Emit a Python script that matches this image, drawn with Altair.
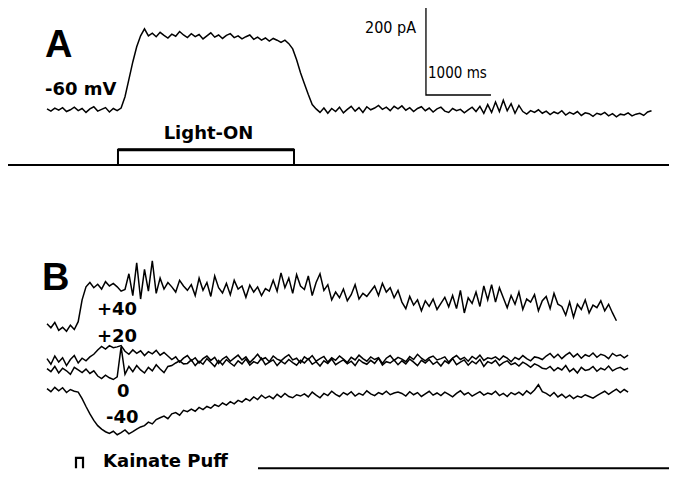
import altair as alt
import pandas as pd

# ---------------- data -----------------
# sampling of the recorded traces (ms)
T_START = 600
DT = 60

# Panel A: light-evoked current at -60 mV (pA, relative to holding baseline)
trace_A = [
    2, -3, 4, -1, 5, -4, 0, 6, -2, 3, -6, 2, 7, -3, 1, 5, -5, 3, -2, 4,
    30, 70, 110, 145, 170,
    186, 170, 176, 168, 178, 171, 165, 174, 169, 180,
    172, 166, 175, 168, 173, 163, 170, 177, 167, 172,
    164, 171, 175, 166, 170, 163, 168, 172, 162, 167,
    160, 165, 158, 164, 160, 155, 160, 152,
    140, 115, 85, 60, 35, 12,
    2, -6, 4, -8, 3, -4, 6, -7, 1, 8,
    -3, 5, -6, 7, 0, 4, 10, 1, 6, -2,
    8, 2, 9, -1, 5, -4, 3, 7, -2, 4,
    -5, 2, 6, -3, -6, 3, -2, 1, -7, 0,
    6, -4, 8, -8,
    12, -6, 18, -4, 22, -2, 14, -8, 10,
    -4, -10, -2, -6, 0, -8, -3, -11, -5, -9,
    -2, -12, -6, -10, -4, -13, -7, -9, -15, -8,
    -11, -6, -14, -9, -16, -10, -12, -7, -14, -10,
    -8, -13, -5, -2,
]

# Panel B: kainate-puff responses at four holding potentials (pA)
trace_B_p40 = [
    5, -4, 8, -10, -3, -12, 2, -8, 10,
    60, 90,
    100, 88, 96, 85, 102, 92, 98, 90,
    80, 84,
    120, 70, 145, 62, 130, 80, 150, 75,
    110, 85, 100, 90, 78, 105, 92, 82,
    95, 70, 110, 82, 100, 68, 115, 88, 76, 98, 72, 105, 85, 92, 66, 94,
    78, 90, 70, 86, 80,
    105, 80, 122, 88, 110, 75, 118, 92, 84, 115, 70, 100, 120, 82, 95,
    60, 78, 65, 85, 58, 72, 95, 62, 75, 68, 80,
    92, 70, 98, 78, 88, 65, 82,
    55, 40, 68, 48, 60, 35, 58, 45, 62, 38, 52, 66, 44,
    70, 40, 82, 30, 65, 52, 78, 45,
    92, 60, 95, 55, 88,
    65, 42, 70, 50, 78, 38, 62, 55, 72, 35, 58, 68, 40, 75, 50,
    45, 25, 55, 20, 50, 38, 60, 30, 48, 42, 58, 35, 50,
    30, 12,
]

trace_B_p20 = [
    8, -5, 14, 0, 10, -8, 6, 15, -2, 9, 3, 12, 18,
    28, 36, 30, 38, 33, 35,
    38,
    25, 18, 28, 20, 26, 15, 24, 19, 27, 16, 22, 14,
    6, 12, 0, 9, 15, 3, 10, -2, 8, 14, 4, 11, -3, 7,
    13, 2, 9, 16, 5, 12, -1, 8, 18, 6, 10, 1, 14, 7,
    3, 11, 17, 5, 9, -2, 12, 6, 15, 2, 8, 13, 0, 10,
    4, 14, 7, -1, 11, 5, 16, 8, 2, 12, 6, 10, -3, 9,
    15, 4, 11, 7, 1, 13, 6, 18, 9, 3, 10, 14, 5, 8,
    12, 0, 9, 15, 6, 11, 2, 13, 7, 16, 4, 10, 8, 12,
    5, 14, 9, 1, 11, 6, 15, 8, 3, 12, 10, 6,
    14, 20, 10, 18, 8, 16, 22, 12, 19, 9, 17, 13, 21, 11, 18, 15, 8, 20, 14, 17, 10, 16,
]

trace_B_0 = [
    -15, -22, -10, -25, -14, -20, -28, -12, -18, -24, -16, -26, -20,
    -32, -38, -30, -36, -40, -34,
    35, -28,
    -10, -22, -8, -18, -25, -12, -20, -6, -16, -24, -10,
    -8, -2, 3, -4,
    -3, 5, -8, 2, -5, 8, -1, -10, 4, -6, 6, -2, -9, 3,
    -4, 7, -7, 1, -3, 9, -6, 0, 5, -8, 2, -4, 6, -1,
    -7, 4, -2, 8, -5, 1, -9, 3, -3, 7, -6, 0, 5, -4,
    2, -8, 6, -1, -5, 4, -3, 9, -7, 1, -2, 5, -6, 3,
    -4, 7, 0, -8, 4, -2, 6, -5, 1, -9, 3, -3, 8, -6,
    0, 5, -7, 2, -4, 6, -10, 1, -3, 4, -8, -1, 3, -6,
    -2, -9, 0, -5, -12, -4, -8, -14,
    -16, -10, -20, -13, -18, -8, -22, -15, -25, -12, -19, -17, -10, -21, -14, -18, -9, -20, -15, -12, -18, -14,
]

trace_B_m40 = [
    3, -4, 6, -2, 5, -6, 1, -3, -5,
    -20, -38, -55, -70, -82, -90, -96,
    -100, -95, -103, -98, -92, -101, -96, -90, -85,
    -82, -74, -78, -68, -64, -60, -66, -55,
    -52, -58, -47, -50, -44, -49, -40, -45, -38,
    -42, -34, -38, -30, -35, -27, -32, -24, -28, -20,
    -25, -16, -22, -12, -19, -14, -20, -10, -17, -8, -15, -18, -11, -14,
    -9, -16, -5, -12, -18, -8, -13, -3, -10, -15, -6, -11, -4, -14, -8, -12, -2, -9, -13, -6, -10, -3, -11, -7, -5,
    -8, -14, -4, -11, -6, -15, -9, -3, -12, -7,
    -13, -5, -10, -16, -8, -2, -11, -6, -14, -9,
    -4, -12, -7, -10, -3, -13, -8, -15, -6, -11,
    -5, -12, -2, -9, 0, 12, -4, -8, -14, -6,
    -16, -10, -18, -12, -20, -14, -17, -11, -15, -19,
    -13, -8, -3, -10, -4, 2, -6, 1, -5,
]

series_names = ["A -60 mV", "B +40", "B +20", "B 0", "B -40"]
series_values = [trace_A, trace_B_p40, trace_B_p20, trace_B_0, trace_B_m40]
# baseline of each trace on the shared current axis (pA)
series_offsets = [828, 331, 248, 248, 184]

# light stimulus (ms) and trace baseline for the stimulus monitor
light_on = [1692, 4400]
stim_level = [701, 736]
# kainate puff marker (ms, pA)
puff_t = [1046, 1046, 1154, 1154]
puff_v = [4, 28, 28, 4]

# calibration bar: 1000 ms / 200 pA
cal_t = [6430, 6430, 7430]
cal_v = [1062, 862, 862]

# ---------------- build tables -----------------
rows = []
for name, vals, off in zip(series_names, series_values, series_offsets):
    for i, val in enumerate(vals):
        rows.append({"series": name, "t": T_START + DT * i, "v": off + val})
traces = pd.DataFrame(rows)

X_DOM = [0, 10169]
Y_DOM = [0, 1062]
xs = alt.Scale(domain=X_DOM, nice=False, zero=False)
ys = alt.Scale(domain=Y_DOM, nice=False, zero=False)

def X(f="t"):
    return alt.X(f + ":Q", scale=xs, axis=None)

def Y(f="v"):
    return alt.Y(f + ":Q", scale=ys, axis=None)

trace_layer = alt.Chart(traces).mark_line(color="black", strokeWidth=1.5).encode(
    x=X(), y=Y(), detail="series:N"
)

# stimulus baseline in A and in B
base_df = pd.DataFrame({"t": [0, 3846], "t2": [10169, 10169], "v": [stim_level[0], 4]})
base_layer = alt.Chart(base_df).mark_rule(color="black", strokeWidth=2).encode(
    x=X(), x2="t2:Q", y=Y()
)

box_df = pd.DataFrame({"t": [light_on[0]], "t2": [light_on[1]],
                       "v": [stim_level[0]], "v2": [stim_level[1]]})
box_layer = alt.Chart(box_df).mark_rect(fill="white", fillOpacity=0, stroke="black",
                                        strokeWidth=2).encode(
    x=X(), x2="t2:Q", y=Y(), y2="v2:Q"
)
box_top = alt.Chart(box_df).mark_rule(color="black", strokeWidth=3).encode(
    x=X(), x2="t2:Q", y=Y("v2")
)

puff_df = pd.DataFrame({"t": puff_t, "v": puff_v, "o": list(range(len(puff_t)))})
puff_layer = alt.Chart(puff_df).mark_line(color="black", strokeWidth=2.2).encode(
    x=X(), y=Y(), order="o:Q"
)

cal_df = pd.DataFrame({"t": cal_t, "v": cal_v, "o": list(range(len(cal_t)))})
cal_layer = alt.Chart(cal_df).mark_line(color="black", strokeWidth=1.3).encode(
    x=X(), y=Y(), order="o:Q"
)

# ---------------- text -----------------
big_df = pd.DataFrame({"t": [569, 523], "v": [949, 414], "label": ["A", "B"]})
big_text = alt.Chart(big_df).mark_text(
    align="left", baseline="alphabetic", font="Liberation Sans", fontSize=38,
    fontWeight="bold", color="black"
).encode(x=X(), y=Y(), text="label:N")

lab_df = pd.DataFrame({
    "t": [569, 1369, 1369, 1677, 1508, 1462],
    "v": [862, 356, 294, 168, 108, 7],
    "label": ["-60 mV", "+40", "+20", "0", "-40", "Kainate Puff"],
})
lab_text = alt.Chart(lab_df).mark_text(
    align="left", baseline="alphabetic", font="DejaVu Sans", fontSize=18,
    fontWeight="bold", color="black"
).encode(x=X(), y=Y(), text="label:N")

light_df = pd.DataFrame({"t": [3085], "v": [761], "label": ["Light-ON"]})
light_text = alt.Chart(light_df).mark_text(
    align="center", baseline="alphabetic", font="DejaVu Sans", fontSize=18,
    fontWeight="bold", color="black"
).encode(x=X(), y=Y(), text="label:N")

narrow = "Liberation Sans Narrow, DejaVu Sans Condensed, Arial Narrow, sans-serif"
cal_lab1 = alt.Chart(pd.DataFrame({"t": [6277], "v": [1005], "label": ["200 pA"]})).mark_text(
    align="right", baseline="alphabetic", font=narrow, fontSize=16, color="black"
).encode(x=X(), y=Y(), text="label:N")
cal_lab2 = alt.Chart(pd.DataFrame({"t": [6462], "v": [901], "label": ["1000 ms"]})).mark_text(
    align="left", baseline="alphabetic", font=narrow, fontSize=15, color="black"
).encode(x=X(), y=Y(), text="label:N")

chart = alt.layer(
    base_layer, box_layer, box_top, trace_layer, puff_layer, cal_layer,
    big_text, lab_text, light_text, cal_lab1, cal_lab2,
).properties(
    width=661, height=462, padding=0,
    autosize=alt.AutoSizeParams(type="none"),
    background="white",
).configure_view(strokeWidth=0)

chart.save("out.html", embed_options={"renderer": "svg", "actions": False})
